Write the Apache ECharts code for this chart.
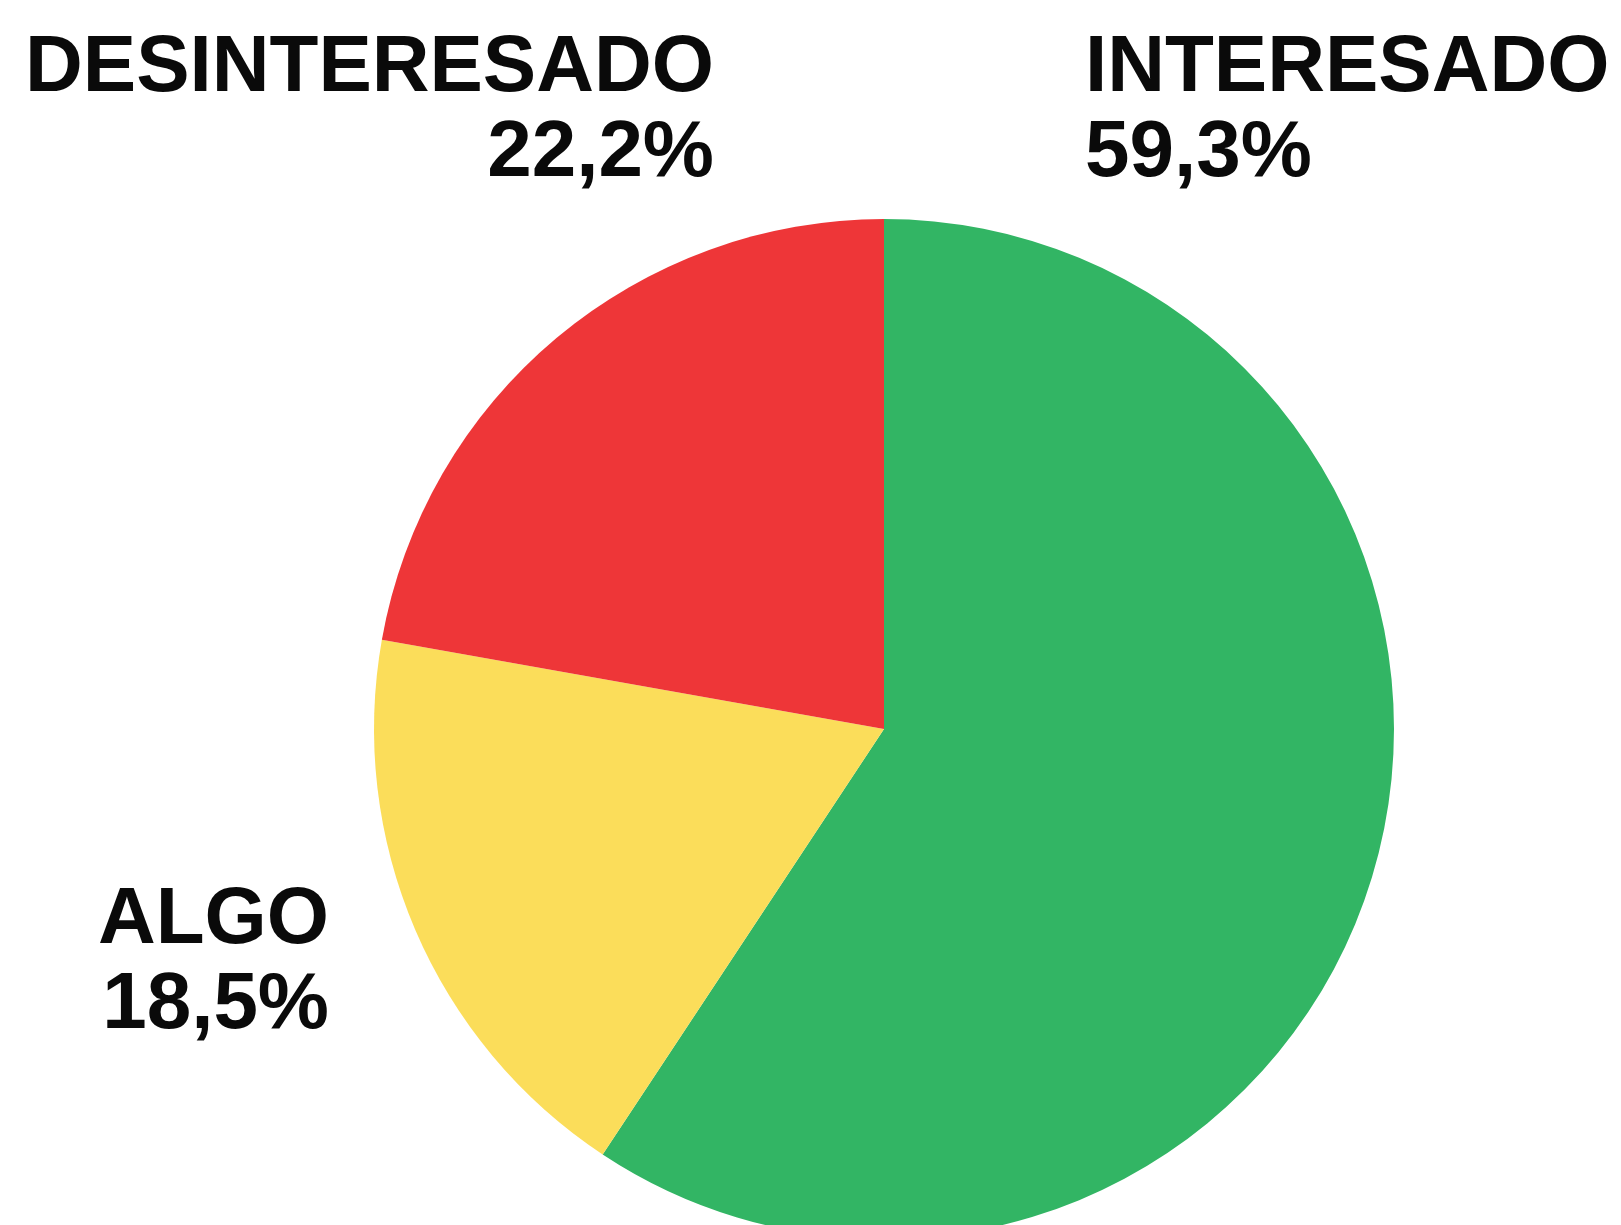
<!DOCTYPE html>
<html lang="es">
<head>
    <meta charset="UTF-8">
    <title>pie</title>
    <script src="https://cdn.jsdelivr.net/npm/echarts@6/dist/echarts.min.js"></script>
    <style>
        html, body { margin: 0; padding: 0; background: #fff; }
    </style>
</head>
<body>
    <div id="charts1" style="width: 1621px;height:1225px;"></div>
    <script type="text/javascript">
        var categories = ['INTERESADO', 'ALGO', 'DESINTERESADO'];
        var values = [59.3, 18.5, 22.2];
        var colors = ['#32b564', '#fbdd5a', '#ee3638'];

        // where each label sits (x, y, align)
        var labelPos = [
            { x: 1085, y: 26, align: 'left' },
            { x: 329, y: 878, align: 'right' },
            { x: 714, y: 26, align: 'right' }
        ];

        var myChart = echarts.init(document.getElementById('charts1'));

        var data = [];
        for (var i = 0; i < categories.length; i++) {
            data.push({
                name: categories[i],
                value: values[i],
                itemStyle: { color: colors[i] },
                label: { align: labelPos[i].align }
            });
        }

        var option = {
            animation: false,
            series: [{
                type: 'pie',
                center: [884, 729],
                radius: 510,
                startAngle: 90,
                clockwise: true,
                data: data,
                itemStyle: { borderWidth: 0 },
                labelLine: { show: false },
                label: {
                    show: true,
                    position: 'outside',
                    alignTo: 'none',
                    overflow: 'none',
                    formatter: function (p) {
                        return '{n|' + p.name + '}\n{n|' + p.value.toFixed(1).replace('.', ',') + '%}';
                    },
                    rich: {
                        n: {
                            fontFamily: 'Liberation Sans',
                            fontWeight: 'bold',
                            fontSize: 80,
                            lineHeight: 85,
                            color: '#0a0a0a'
                        }
                    }
                },
                labelLayout: function (params) {
                    var p = labelPos[params.dataIndex];
                    return { x: p.x, y: p.y, align: p.align, verticalAlign: 'top', hideOverlap: false };
                }
            }]
        };
        myChart.setOption(option);
    </script>
</body>
</html>
